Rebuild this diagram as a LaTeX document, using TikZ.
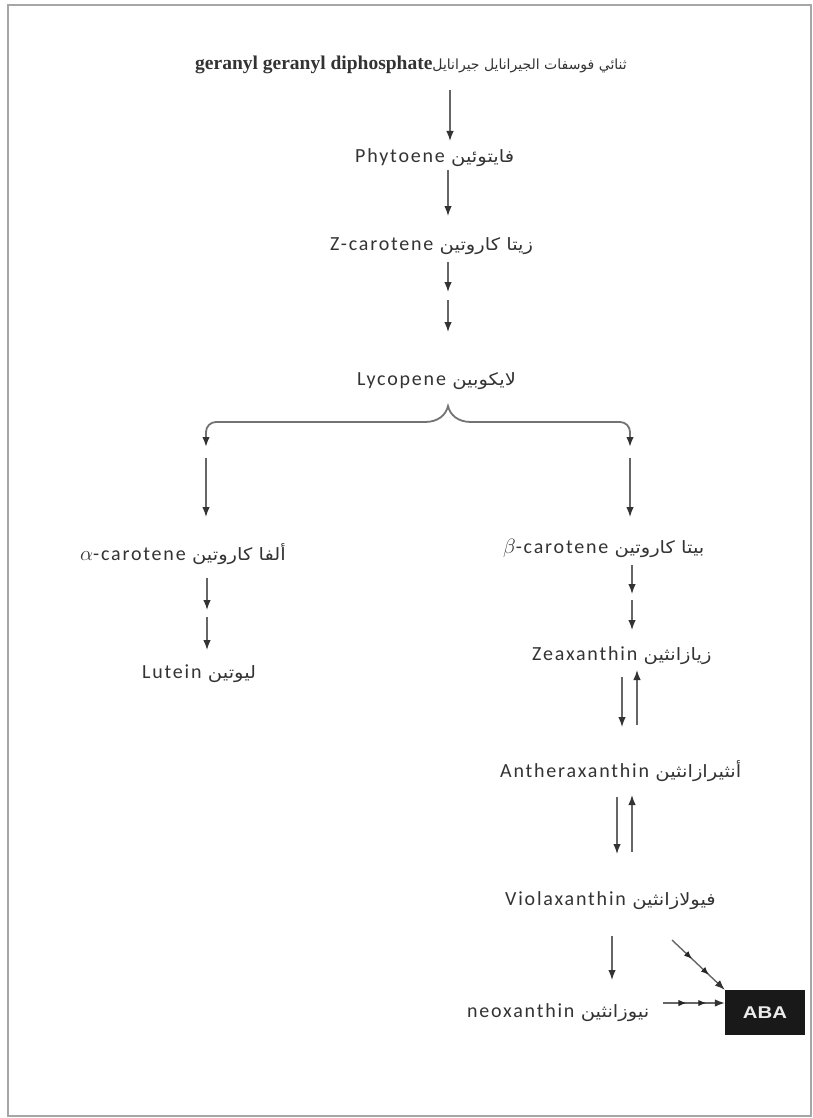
\documentclass[tikz,border=0pt]{standalone}
\usepackage{fontspec}
\usepackage{graphicx}
\setmainfont{Carlito}[LetterSpace=9]
\newfontfamily\serfont{Liberation Serif}
\newfontfamily\arfont[Script=Arabic]{DejaVu Sans}
\newfontfamily\abafont{Liberation Sans}
\TeXXeTstate=1
\usetikzlibrary{arrows.meta,decorations.markings}
\newcommand{\ar}[1]{\scalebox{1.15}[1]{\arfont\mdseries\fontsize{17}{19}\selectfont\beginR #1\endR}}
\newcommand{\artop}[1]{{\arfont\mdseries\fontsize{14}{16}\selectfont\beginR #1\endR}}
\begin{document}
\begin{tikzpicture}[x=1pt,y=-1pt,
  lab/.style={anchor=west,inner sep=0pt,text height=14pt,text depth=4pt,
    font=\fontsize{20}{23}\selectfont,text=black!80},
  tip/.tip={Latex[length=10pt,width=7.5pt,color=black!80]},
  arr/.style={draw=black!60,line width=1.4pt,-tip},
  arrs/.style={draw=black!55,line width=1.8pt,tip-tip},
  multi/.style={postaction={decorate},decoration={markings,
    mark=at position 0.38 with {\arrow{Latex[length=8pt,width=6.5pt,color=black!85]}},
    mark=at position 0.7 with {\arrow{Latex[length=8pt,width=6.5pt,color=black!85]}}}}]
\useasboundingbox (0,0) rectangle (813,1118);
\draw[black!35,line width=1.5pt] (8,5) rectangle (811,1116);

% labels
\node[lab,font=\serfont\bfseries\fontsize{19.5}{22}\selectfont] (geran) at (195,65) {geranyl geranyl diphosphate\artop{ثنائي فوسفات الجيرانايل جيرانايل}};
\node[lab] (phyt) at (355,158) {Phytoene \ar{فايتوئين}};
\node[lab] (zcar) at (330,245) {Z-carotene \ar{زيتا كاروتين}};
\node[lab] (lyco) at (357,380) {Lycopene \ar{لايكوبين}};
\node[lab] (acar) at (80,555) {$\alpha$-carotene \ar{ألفا كاروتين}};
\node[lab] (lut) at (142,673) {Lutein \ar{ليوتين}};
\node[lab] (bcar) at (503,548) {$\beta$-carotene \ar{بيتا كاروتين}};
\node[lab] (zea) at (532,655) {Zeaxanthin \ar{زيازانثين}};
\node[lab] (anth) at (500,772) {Antheraxanthin \ar{أنثيرازانثين}};
\node[lab] (viol) at (505,900) {Violaxanthin \ar{فيولازانثين}};
\node[lab] (neo) at (467,1012) {neoxanthin \ar{نيوزانثين}};
\node[fill=black!90,text=white!92!black,minimum width=80pt,minimum height=45pt,inner sep=0pt,
  font=\abafont\bfseries\fontsize{17}{19}\selectfont] (aba) at (765,1012.5) {\scalebox{1.2}[1]{ABA}};

% arrow end points
\coordinate (a1s) at (450,90);   \coordinate (a1e) at (450,141);
\coordinate (a2s) at (448,170);  \coordinate (a2e) at (448,216);
\coordinate (a3s) at (448,262);  \coordinate (a3e) at (448,292);
\coordinate (a4s) at (448,300);  \coordinate (a4e) at (448,332);
\coordinate (bl) at (206,447);   \coordinate (br) at (630,447);
\coordinate (l1s) at (206,458);  \coordinate (l1e) at (206,517);
\coordinate (r1s) at (630,458);  \coordinate (r1e) at (630,517);
\coordinate (l2s) at (207,578);  \coordinate (l2e) at (207,610);
\coordinate (l3s) at (207,617);  \coordinate (l3e) at (207,650);
\coordinate (r2s) at (632,565);  \coordinate (r2e) at (632,594);
\coordinate (r3s) at (632,600);  \coordinate (r3e) at (632,630);
\coordinate (z1s) at (622,677);  \coordinate (z1e) at (622,727);
\coordinate (z2s) at (637,725);  \coordinate (z2e) at (637,670);
\coordinate (v1s) at (617,797);  \coordinate (v1e) at (617,854);
\coordinate (v2s) at (632,852);  \coordinate (v2e) at (632,795);
\coordinate (n1s) at (612,936);  \coordinate (n1e) at (612,980);
\coordinate (d1s) at (672,940);
\coordinate (h1s) at (663,1003);

\draw[arr] (a1s) -- (a1e);
\draw[arr] (a2s) -- (a2e);
\draw[arr] (a3s) -- (a3e);
\draw[arr] (a4s) -- (a4e);
% brace
\draw[arrs] (bl) -- (206,432) to[out=90,in=180] (216,422) -- (425,422)
  .. controls (438,422) and (446,415) .. (448,406)
  .. controls (450,415) and (458,422) .. (471,422) -- (620,422)
  to[out=0,in=90] (630,432) -- (br);
\draw[arr] (l1s) -- (l1e);
\draw[arr] (r1s) -- (r1e);
\draw[arr] (l2s) -- (l2e);
\draw[arr] (l3s) -- (l3e);
\draw[arr] (r2s) -- (r2e);
\draw[arr] (r3s) -- (r3e);
\draw[arr] (z1s) -- (z1e);
\draw[arr] (z2s) -- (z2e);
\draw[arr] (v1s) -- (v1e);
\draw[arr] (v2s) -- (v2e);
\draw[arr] (n1s) -- (n1e);
\draw[arr,multi] (d1s) -- (aba.north west);
\draw[arr,multi] (h1s) -- (aba.west |- h1s);
\end{tikzpicture}
\end{document}
